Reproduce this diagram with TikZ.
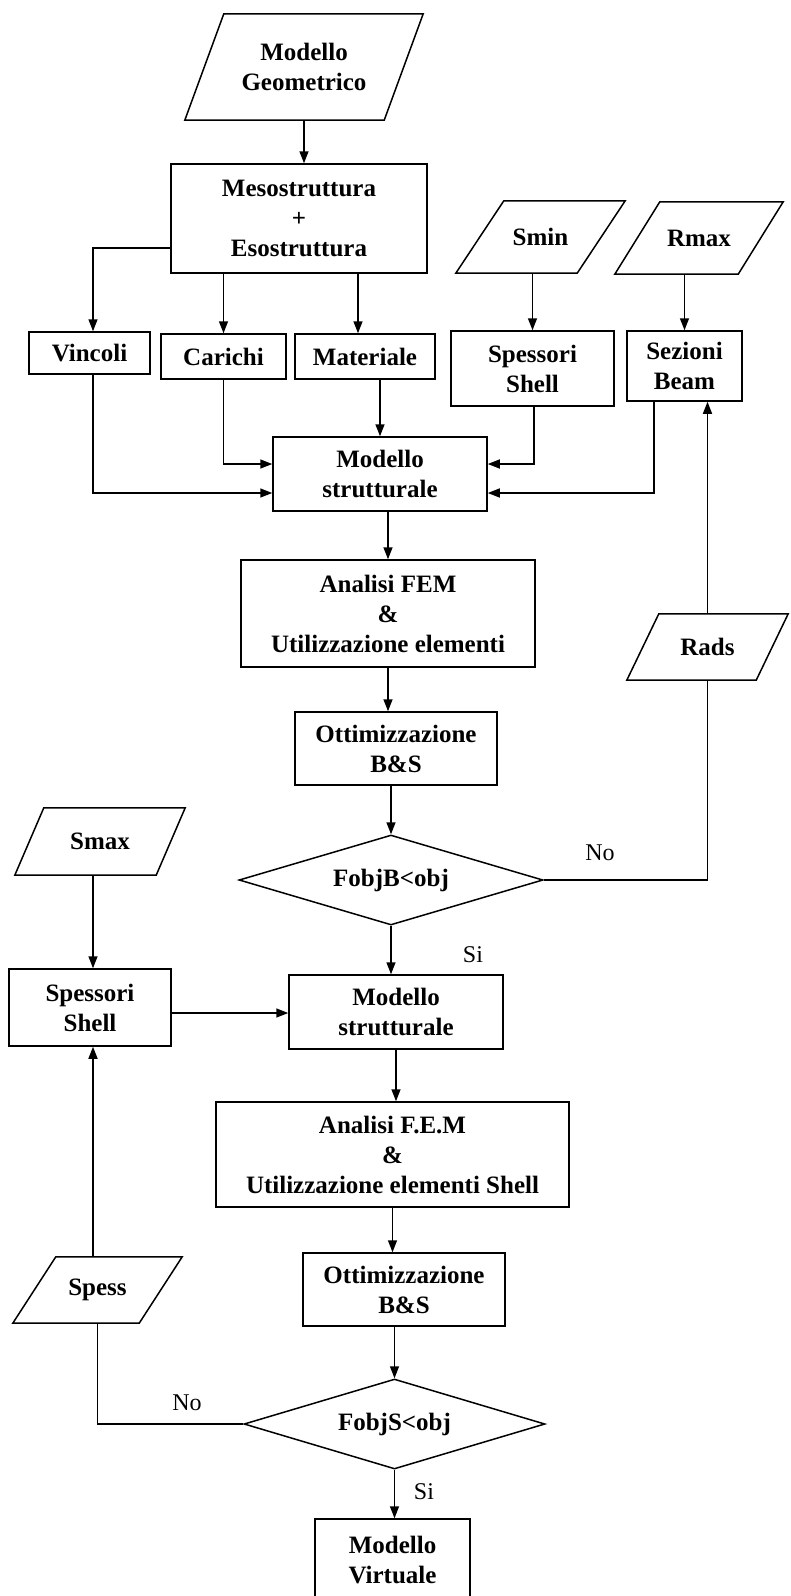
\documentclass[tikz,border=0pt]{standalone}
\usepackage{fontspec}
\setmainfont{Liberation Serif}
\usetikzlibrary{arrows.meta,shapes.geometric,calc}
\begin{document}
\begin{tikzpicture}[x=1pt,y=-1pt,
  font=\fontsize{25}{30}\selectfont\bfseries,
  ln/.style={line width=1.5pt},
  arr/.style={ln,-{Triangle[length=12pt,width=9pt]}},
  box/.style={draw,ln,align=center,inner sep=0pt},
  ptxt/.style={align=center,inner sep=0pt},
  dia/.style={draw,ln,diamond,aspect=3.4,inner sep=0pt},
  lab/.style={font=\fontsize{24}{29}\selectfont\mdseries,inner sep=0pt}
]
\useasboundingbox (0,0) rectangle (790,1596);
\clip (0,0) rectangle (790,1596);

% input parallelograms: text node + outline
\node[ptxt,minimum width=238pt,minimum height=106pt] (geo) at (304,67) {Modello\\Geometrico};
\draw[ln] ($(geo.north west)+(39,0)$) -- (geo.north east) -- ($(geo.south east)-(39,0)$) -- (geo.south west) -- cycle;

\node[ptxt,minimum width=169pt,minimum height=72pt] (smin) at (540.5,237) {Smin};
\draw[ln] ($(smin.north west)+(48,0)$) -- (smin.north east) -- ($(smin.south east)-(48,0)$) -- (smin.south west) -- cycle;

\node[ptxt,minimum width=168pt,minimum height=72pt] (rmax) at (699,238) {Rmax};
\draw[ln] ($(rmax.north west)+(45,0)$) -- (rmax.north east) -- ($(rmax.south east)-(45,0)$) -- (rmax.south west) -- cycle;

\node[ptxt,minimum width=161pt,minimum height=66pt] (rads) at (707.5,647) {Rads};
\draw[ln] ($(rads.north west)+(32,0)$) -- (rads.north east) -- ($(rads.south east)-(32,0)$) -- (rads.south west) -- cycle;

\node[ptxt,minimum width=170pt,minimum height=67pt] (smax) at (100,841.5) {Smax};
\draw[ln] ($(smax.north west)+(29,0)$) -- (smax.north east) -- ($(smax.south east)-(29,0)$) -- (smax.south west) -- cycle;

\node[ptxt,minimum width=169pt,minimum height=66pt] (spess) at (97.5,1290) {Spess};
\draw[ln] ($(spess.north west)+(43,0)$) -- (spess.north east) -- ($(spess.south east)-(43,0)$) -- (spess.south west) -- cycle;

% process boxes
\node[box,minimum width=256pt,minimum height=109pt] (meso) at (299,218.5) {Mesostruttura\\+\\Esostruttura};
\node[box,minimum width=121pt,minimum height=42pt] (vinc) at (89.5,353) {Vincoli};
\node[box,minimum width=125pt,minimum height=45pt] (car) at (223.5,356.5) {Carichi};
\node[box,minimum width=140pt,minimum height=45pt] (mat) at (365,356.5) {Materiale};
\node[box,minimum width=163pt,minimum height=75pt] (sp1) at (532.5,368.5) {Spessori\\Shell};
\node[box,minimum width=115pt,minimum height=70pt] (sez) at (684.5,366) {Sezioni\\Beam};
\node[box,minimum width=214pt,minimum height=74pt] (ms1) at (380,474) {Modello\\strutturale};
\node[box,minimum width=294pt,minimum height=107pt] (an1) at (388,613.5) {Analisi FEM\\\&\\Utilizzazione elementi};
\node[box,minimum width=202pt,minimum height=73pt] (ot1) at (396,748.5) {Ottimizzazione\\B\&S};
\node[dia,minimum width=304pt,minimum height=90pt] (d1) at (391,880) {FobjB<obj};
\node[box,minimum width=162pt,minimum height=77pt] (sp2) at (90,1007.5) {Spessori\\Shell};
\node[box,minimum width=214pt,minimum height=74pt] (ms2) at (396,1012) {Modello\\strutturale};
\node[box,minimum width=353pt,minimum height=105pt] (an2) at (392.5,1154.5) {Analisi F.E.M\\\&\\Utilizzazione elementi Shell};
\node[box,minimum width=202pt,minimum height=73pt] (ot2) at (404,1289.5) {Ottimizzazione\\B\&S};
\node[dia,minimum width=301pt,minimum height=90pt] (d2) at (394.5,1424) {FobjS<obj};
\node[box,minimum width=155pt,minimum height=81pt,text depth=0pt] (mv) at (392.5,1559.5) {Modello\\Virtuale};

% branch labels
\node[lab] (no1) at (600,853) {No};
\node[lab] (si1) at (473,955) {Si};
\node[lab] (no2) at (187,1403) {No};
\node[lab] (si2) at (424,1492) {Si};

% attachment points
\coordinate (matin) at ([xshift=-7pt]mat.north);
\coordinate (sp2top) at ([xshift=3pt]sp2.north);
\coordinate (sp2bot) at ([xshift=3pt]sp2.south);
\coordinate (sp2r) at ([yshift=-5.5pt]sp2.east);

% connectors, upper part
\draw[arr] (geo.south) -- (geo.south |- meso.north);
\draw[arr] ([yshift=-29.5pt]meso.west) -| ([xshift=3.5pt]vinc.north);
\draw[arr] (meso.south -| car.north) -- (car.north);
\draw[arr] (matin |- meso.south) -- (matin);
\draw[arr] (smin.south -| sp1.north) -- (sp1.north);
\draw[arr] (rmax.south -| sez.north) -- (sez.north);
\draw[arr] (mat.south -| ms1.north) -- (ms1.north);
\draw[arr] (car.south) |- ([yshift=10pt]ms1.west);
\draw[arr] ([xshift=3.5pt]vinc.south) |- ([yshift=-19pt]ms1.west);
\draw[arr] ([xshift=1.5pt]sp1.south) |- ([yshift=10pt]ms1.east);
\draw[arr] ([xshift=-30.5pt]sez.south) |- ([yshift=-19pt]ms1.east);
\draw[arr] (an1.north |- ms1.south) -- (an1.north);
\draw[arr] (an1.south) -- (an1.south |- ot1.north);
\draw[arr] (d1.north |- ot1.south) -- (d1.north);
\draw[ln] (d1.east) -| (rads.south);
\draw[arr] (rads.north) -- (rads.north |- sez.south);

% connectors, lower part
\draw[arr] (d1.south) -- (d1.south |- ms2.north);
\draw[arr] (sp2top |- smax.south) -- (sp2top);
\draw[arr] (sp2r) -- (sp2r -| ms2.west);
\draw[arr] (ms2.south) -- (ms2.south |- an2.north);
\draw[arr] (an2.south) -- (an2.south |- ot2.north);
\draw[arr] (d2.north |- ot2.south) -- (d2.north);
\draw[arr] (d2.south) -- (d2.south |- mv.north);
\draw[ln] (d2.west) -| (spess.south);
\draw[arr] (spess.north -| sp2bot) -- (sp2bot);
\end{tikzpicture}
\end{document}
